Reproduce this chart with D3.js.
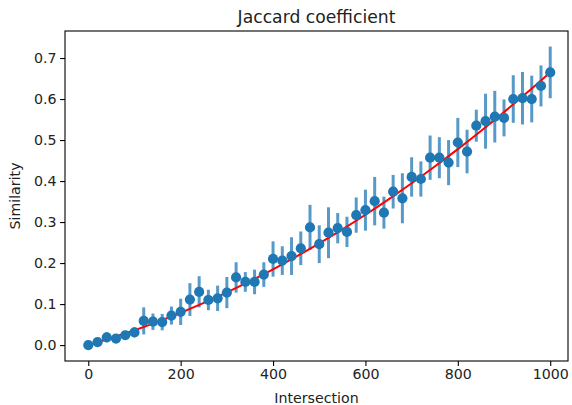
<!DOCTYPE html>
<html><head><meta charset="utf-8">
<script src="https://cdn.jsdelivr.net/npm/d3@7"></script>
<style>body{margin:0;background:#fff;} svg{display:block;} text{font-family:"DejaVu Sans",sans-serif;fill:#222;}</style>
</head><body>
<svg id="c" width="572" height="405"></svg>
<script>
const intersection = [0,20,40,60,80,100,120,140,160,180,200,220,240,260,280,300,320,340,360,380,400,420,440,460,480,500,520,540,560,580,600,620,640,660,680,700,720,740,760,780,800,820,840,860,880,900,920,940,960,980,1000];
const similarity = [0.000,0.007,0.019,0.016,0.024,0.031,0.059,0.057,0.056,0.072,0.081,0.111,0.130,0.110,0.114,0.128,0.165,0.154,0.154,0.172,0.210,0.206,0.217,0.236,0.287,0.246,0.274,0.285,0.276,0.317,0.329,0.351,0.323,0.374,0.358,0.410,0.405,0.457,0.457,0.445,0.494,0.472,0.535,0.546,0.557,0.554,0.600,0.602,0.600,0.632,0.665];
const errors = [0.005,0.006,0.012,0.008,0.010,0.012,0.033,0.020,0.020,0.022,0.032,0.040,0.038,0.025,0.031,0.038,0.037,0.024,0.030,0.030,0.043,0.035,0.046,0.041,0.055,0.046,0.062,0.037,0.037,0.043,0.050,0.059,0.039,0.041,0.061,0.048,0.043,0.054,0.050,0.055,0.060,0.053,0.039,0.067,0.063,0.045,0.058,0.064,0.057,0.050,0.063];
const fitX = [0,50,100,150,200,250,300,350,400,450,500,550,600,650,700,750,800,850,900,950,1000];
const fitY = [0,0.0172,0.0361,0.0566,0.0789,0.1029,0.1285,0.1559,0.1849,0.2156,0.248,0.2821,0.3179,0.3554,0.3945,0.4354,0.4779,0.5222,0.5681,0.6157,0.665];
const xTicks = [0,200,400,600,800,1000];
const yTicks = [0.0,0.1,0.2,0.3,0.4,0.5,0.6,0.7];
const title = "Jaccard coefficient", xLabel = "Intersection", yLabel = "Similarity";

const L=65, R=568, T=31, B=361;
const x = d3.scaleLinear().domain([-50.4,1038.5]).range([L,R]);
const y = d3.scaleLinear().domain([-0.0388,0.7659]).range([B,T]);
const svg = d3.select("#c");
const fs = 14.2;

const gx = svg.append("g").attr("transform",`translate(0,${B})`)
  .call(d3.axisBottom(x).tickValues(xTicks).tickFormat(d3.format("d")).tickSize(4.9).tickPadding(3.5));
const gy = svg.append("g").attr("transform",`translate(${L},0)`)
  .call(d3.axisLeft(y).tickValues(yTicks).tickFormat(d3.format(".1f")).tickSize(4.9).tickPadding(3.5));
[gx,gy].forEach(g=>{g.select(".domain").remove(); g.selectAll("line").attr("stroke","#000").attr("stroke-width",1.1);
  g.selectAll("text").attr("font-size",fs).attr("font-family","DejaVu Sans").attr("fill","#222");});

// error bars
svg.append("g").selectAll("line").data(intersection).join("line")
  .attr("x1",(d)=>x(d)).attr("x2",(d)=>x(d))
  .attr("y1",(d,i)=>y(similarity[i]-errors[i])).attr("y2",(d,i)=>y(similarity[i]+errors[i]))
  .attr("stroke","#1f77b4").attr("stroke-opacity",0.75).attr("stroke-width",3);

// fit line
svg.append("path").datum(fitX.map((d,i)=>[d,fitY[i]]))
  .attr("d",d3.line().x(d=>x(d[0])).y(d=>y(d[1])).curve(d3.curveMonotoneX))
  .attr("fill","none").attr("stroke","#ff0000").attr("stroke-width",2);

// markers
svg.append("g").selectAll("circle").data(intersection).join("circle")
  .attr("cx",d=>x(d)).attr("cy",(d,i)=>y(similarity[i])).attr("r",5.1).attr("fill","#1f77b4");

// frame
svg.append("rect").attr("x",L).attr("y",T).attr("width",R-L).attr("height",B-T)
  .attr("fill","none").attr("stroke","#000").attr("stroke-width",1.1);

svg.append("text").attr("x",(L+R)/2).attr("y",T-8.5).attr("text-anchor","middle").attr("font-size",17.2).text(title);
svg.append("text").attr("x",(L+R)/2).attr("y",403).attr("text-anchor","middle").attr("font-size",fs).text(xLabel);
svg.append("text").attr("transform",`translate(20,${(T+B)/2}) rotate(-90)`).attr("text-anchor","middle").attr("font-size",fs).text(yLabel);
</script>
</body></html>
